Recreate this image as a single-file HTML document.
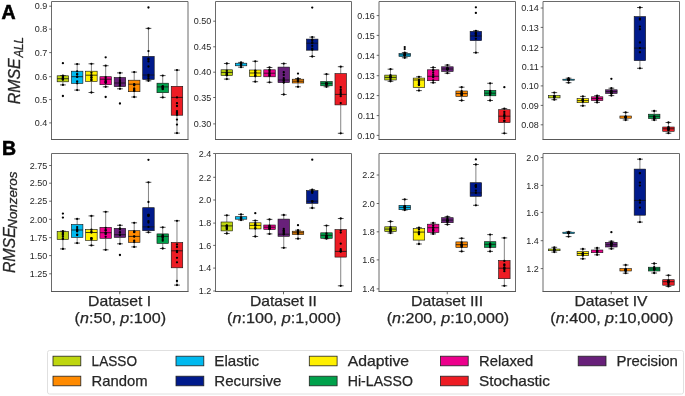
<!DOCTYPE html>
<html><head><meta charset="utf-8"><style>
html,body{margin:0;padding:0;background:#fff;}
svg{display:block;filter:blur(0.25px);}
text{font-family:"Liberation Sans",sans-serif;fill:#262626;}
.tl{font-size:9px;text-anchor:end;}
.xl{font-size:14.5px;stroke:#262626;stroke-width:0.25px;}
.yl{font-size:16.5px;font-style:italic;stroke:#262626;stroke-width:0.3px;}
.ys{font-size:12.4px;font-style:italic;stroke:#262626;stroke-width:0.3px;}
.pl{font-size:19.5px;font-weight:bold;fill:#000;stroke:#000;stroke-width:0.6px;}
.lg{font-size:14.5px;stroke:#262626;stroke-width:0.25px;}
.w{stroke:#777;stroke-width:0.9;}
.c{stroke:#222;stroke-width:0.8;}
.b{stroke:#111;stroke-width:0.6;}
.m{stroke:#111;stroke-width:0.8;}
.f{fill:none;stroke:#6a6a6a;stroke-width:1;}
.fb{stroke:#585858;stroke-width:1;}
.t{stroke:#444;stroke-width:0.8;}
circle{fill:#000;}
</style></head><body>
<svg width="685" height="396" viewBox="0 0 685 396">
<line x1="62.90" y1="75.60" x2="62.90" y2="75.80" class="w"/>
<line x1="62.90" y1="81.80" x2="62.90" y2="84.90" class="w"/>
<line x1="60.02" y1="75.60" x2="65.78" y2="75.60" class="c"/>
<line x1="60.02" y1="84.90" x2="65.78" y2="84.90" class="c"/>
<rect x="57.15" y="75.80" width="11.50" height="6.00" fill="#bed60f" class="b"/>
<line x1="57.15" y1="78.70" x2="68.65" y2="78.70" class="m"/>
<circle cx="62.90" cy="75.60" r="1.15"/>
<circle cx="62.90" cy="84.90" r="1.15"/>
<circle cx="62.90" cy="78.70" r="1.15"/>
<circle cx="62.90" cy="63.20" r="1.15"/>
<circle cx="62.90" cy="96.00" r="1.15"/>
<circle cx="62.90" cy="77.23" r="1.15"/>
<circle cx="62.90" cy="79.07" r="1.15"/>
<circle cx="62.90" cy="78.02" r="1.15"/>
<circle cx="62.90" cy="79.42" r="1.15"/>
<circle cx="62.90" cy="79.55" r="1.15"/>
<circle cx="62.90" cy="76.19" r="1.15"/>
<line x1="77.16" y1="64.10" x2="77.16" y2="71.20" class="w"/>
<line x1="77.16" y1="83.40" x2="77.16" y2="90.10" class="w"/>
<line x1="74.28" y1="64.10" x2="80.03" y2="64.10" class="c"/>
<line x1="74.28" y1="90.10" x2="80.03" y2="90.10" class="c"/>
<rect x="71.41" y="71.20" width="11.50" height="12.20" fill="#00b9ef" class="b"/>
<line x1="71.41" y1="76.70" x2="82.91" y2="76.70" class="m"/>
<circle cx="77.16" cy="64.10" r="1.15"/>
<circle cx="77.16" cy="90.10" r="1.15"/>
<circle cx="77.16" cy="76.70" r="1.15"/>
<circle cx="77.16" cy="71.36" r="1.15"/>
<circle cx="77.16" cy="81.42" r="1.15"/>
<circle cx="77.16" cy="74.36" r="1.15"/>
<circle cx="77.16" cy="74.06" r="1.15"/>
<circle cx="77.16" cy="83.35" r="1.15"/>
<circle cx="77.16" cy="76.94" r="1.15"/>
<line x1="91.42" y1="63.80" x2="91.42" y2="71.20" class="w"/>
<line x1="91.42" y1="81.50" x2="91.42" y2="92.50" class="w"/>
<line x1="88.55" y1="63.80" x2="94.30" y2="63.80" class="c"/>
<line x1="88.55" y1="92.50" x2="94.30" y2="92.50" class="c"/>
<rect x="85.67" y="71.20" width="11.50" height="10.30" fill="#fff000" class="b"/>
<line x1="85.67" y1="75.20" x2="97.17" y2="75.20" class="m"/>
<circle cx="91.42" cy="63.80" r="1.15"/>
<circle cx="91.42" cy="92.50" r="1.15"/>
<circle cx="91.42" cy="75.20" r="1.15"/>
<circle cx="91.42" cy="79.82" r="1.15"/>
<circle cx="91.42" cy="76.11" r="1.15"/>
<circle cx="91.42" cy="77.78" r="1.15"/>
<circle cx="91.42" cy="72.75" r="1.15"/>
<circle cx="91.42" cy="77.74" r="1.15"/>
<circle cx="91.42" cy="80.14" r="1.15"/>
<line x1="105.68" y1="65.70" x2="105.68" y2="76.70" class="w"/>
<line x1="105.68" y1="84.70" x2="105.68" y2="86.80" class="w"/>
<line x1="102.81" y1="65.70" x2="108.56" y2="65.70" class="c"/>
<line x1="102.81" y1="86.80" x2="108.56" y2="86.80" class="c"/>
<rect x="99.93" y="76.70" width="11.50" height="8.00" fill="#ec008c" class="b"/>
<line x1="99.93" y1="79.20" x2="111.43" y2="79.20" class="m"/>
<circle cx="105.68" cy="65.70" r="1.15"/>
<circle cx="105.68" cy="86.80" r="1.15"/>
<circle cx="105.68" cy="79.20" r="1.15"/>
<circle cx="105.68" cy="57.30" r="1.15"/>
<circle cx="105.68" cy="97.00" r="1.15"/>
<circle cx="105.68" cy="80.89" r="1.15"/>
<circle cx="105.68" cy="82.63" r="1.15"/>
<circle cx="105.68" cy="82.07" r="1.15"/>
<circle cx="105.68" cy="77.21" r="1.15"/>
<circle cx="105.68" cy="82.77" r="1.15"/>
<circle cx="105.68" cy="81.43" r="1.15"/>
<line x1="119.94" y1="72.90" x2="119.94" y2="77.50" class="w"/>
<line x1="119.94" y1="86.60" x2="119.94" y2="88.80" class="w"/>
<line x1="117.06" y1="72.90" x2="122.81" y2="72.90" class="c"/>
<line x1="117.06" y1="88.80" x2="122.81" y2="88.80" class="c"/>
<rect x="114.19" y="77.50" width="11.50" height="9.10" fill="#68207a" class="b"/>
<line x1="114.19" y1="83.00" x2="125.69" y2="83.00" class="m"/>
<circle cx="119.94" cy="72.90" r="1.15"/>
<circle cx="119.94" cy="88.80" r="1.15"/>
<circle cx="119.94" cy="83.00" r="1.15"/>
<circle cx="119.94" cy="103.50" r="1.15"/>
<circle cx="119.94" cy="80.24" r="1.15"/>
<circle cx="119.94" cy="77.78" r="1.15"/>
<circle cx="119.94" cy="85.38" r="1.15"/>
<circle cx="119.94" cy="81.80" r="1.15"/>
<circle cx="119.94" cy="84.04" r="1.15"/>
<circle cx="119.94" cy="85.50" r="1.15"/>
<line x1="134.20" y1="72.10" x2="134.20" y2="80.20" class="w"/>
<line x1="134.20" y1="91.70" x2="134.20" y2="97.00" class="w"/>
<line x1="131.32" y1="72.10" x2="137.07" y2="72.10" class="c"/>
<line x1="131.32" y1="97.00" x2="137.07" y2="97.00" class="c"/>
<rect x="128.45" y="80.20" width="11.50" height="11.50" fill="#ff8a00" class="b"/>
<line x1="128.45" y1="84.20" x2="139.95" y2="84.20" class="m"/>
<circle cx="134.20" cy="72.10" r="1.15"/>
<circle cx="134.20" cy="97.00" r="1.15"/>
<circle cx="134.20" cy="84.20" r="1.15"/>
<circle cx="134.20" cy="88.41" r="1.15"/>
<circle cx="134.20" cy="90.79" r="1.15"/>
<circle cx="134.20" cy="84.74" r="1.15"/>
<circle cx="134.20" cy="89.41" r="1.15"/>
<circle cx="134.20" cy="85.31" r="1.15"/>
<circle cx="134.20" cy="90.96" r="1.15"/>
<line x1="148.46" y1="28.40" x2="148.46" y2="56.40" class="w"/>
<line x1="148.46" y1="79.50" x2="148.46" y2="80.80" class="w"/>
<line x1="145.59" y1="28.40" x2="151.34" y2="28.40" class="c"/>
<line x1="145.59" y1="80.80" x2="151.34" y2="80.80" class="c"/>
<rect x="142.71" y="56.40" width="11.50" height="23.10" fill="#001a8c" class="b"/>
<line x1="142.71" y1="75.00" x2="154.21" y2="75.00" class="m"/>
<circle cx="148.46" cy="28.40" r="1.15"/>
<circle cx="148.46" cy="80.80" r="1.15"/>
<circle cx="148.46" cy="75.00" r="1.15"/>
<circle cx="148.46" cy="7.50" r="1.15"/>
<circle cx="148.46" cy="51.10" r="1.15"/>
<circle cx="148.46" cy="76.70" r="1.15"/>
<circle cx="148.46" cy="58.65" r="1.15"/>
<circle cx="148.46" cy="59.54" r="1.15"/>
<circle cx="148.46" cy="61.41" r="1.15"/>
<circle cx="148.46" cy="78.70" r="1.15"/>
<circle cx="148.46" cy="66.48" r="1.15"/>
<line x1="162.72" y1="75.60" x2="162.72" y2="83.20" class="w"/>
<line x1="162.72" y1="92.70" x2="162.72" y2="97.40" class="w"/>
<line x1="159.84" y1="75.60" x2="165.59" y2="75.60" class="c"/>
<line x1="159.84" y1="97.40" x2="165.59" y2="97.40" class="c"/>
<rect x="156.97" y="83.20" width="11.50" height="9.50" fill="#00a14b" class="b"/>
<line x1="156.97" y1="86.90" x2="168.47" y2="86.90" class="m"/>
<circle cx="162.72" cy="75.60" r="1.15"/>
<circle cx="162.72" cy="97.40" r="1.15"/>
<circle cx="162.72" cy="86.90" r="1.15"/>
<circle cx="162.72" cy="89.15" r="1.15"/>
<circle cx="162.72" cy="86.06" r="1.15"/>
<circle cx="162.72" cy="88.02" r="1.15"/>
<circle cx="162.72" cy="86.87" r="1.15"/>
<circle cx="162.72" cy="86.53" r="1.15"/>
<circle cx="162.72" cy="88.76" r="1.15"/>
<line x1="176.98" y1="70.10" x2="176.98" y2="86.30" class="w"/>
<line x1="176.98" y1="115.20" x2="176.98" y2="133.10" class="w"/>
<line x1="174.10" y1="70.10" x2="179.85" y2="70.10" class="c"/>
<line x1="174.10" y1="133.10" x2="179.85" y2="133.10" class="c"/>
<rect x="171.23" y="86.30" width="11.50" height="28.90" fill="#ed1c24" class="b"/>
<line x1="171.23" y1="97.40" x2="182.73" y2="97.40" class="m"/>
<circle cx="176.98" cy="70.10" r="1.15"/>
<circle cx="176.98" cy="133.10" r="1.15"/>
<circle cx="176.98" cy="97.40" r="1.15"/>
<circle cx="176.98" cy="119.60" r="1.15"/>
<circle cx="176.98" cy="124.60" r="1.15"/>
<circle cx="176.98" cy="103.18" r="1.15"/>
<circle cx="176.98" cy="112.43" r="1.15"/>
<circle cx="176.98" cy="106.01" r="1.15"/>
<circle cx="176.98" cy="113.15" r="1.15"/>
<circle cx="176.98" cy="111.05" r="1.15"/>
<circle cx="176.98" cy="114.94" r="1.15"/>
<path d="M51.5,139.5 V1.5 H188.0 V139.5" class="f"/>
<line x1="51.0" y1="139.5" x2="188.5" y2="139.5" class="fb"/>
<line x1="49.20" y1="6.20" x2="51.50" y2="6.20" class="t"/>
<text x="47.20" y="9.40" class="tl">0.9</text>
<line x1="49.20" y1="29.10" x2="51.50" y2="29.10" class="t"/>
<text x="47.20" y="32.30" class="tl">0.8</text>
<line x1="49.20" y1="52.60" x2="51.50" y2="52.60" class="t"/>
<text x="47.20" y="55.80" class="tl">0.7</text>
<line x1="49.20" y1="76.70" x2="51.50" y2="76.70" class="t"/>
<text x="47.20" y="79.90" class="tl">0.6</text>
<line x1="49.20" y1="99.60" x2="51.50" y2="99.60" class="t"/>
<text x="47.20" y="102.80" class="tl">0.5</text>
<line x1="49.20" y1="122.90" x2="51.50" y2="122.90" class="t"/>
<text x="47.20" y="126.10" class="tl">0.4</text>
<line x1="226.80" y1="63.50" x2="226.80" y2="69.80" class="w"/>
<line x1="226.80" y1="75.50" x2="226.80" y2="79.10" class="w"/>
<line x1="223.93" y1="63.50" x2="229.68" y2="63.50" class="c"/>
<line x1="223.93" y1="79.10" x2="229.68" y2="79.10" class="c"/>
<rect x="221.05" y="69.80" width="11.50" height="5.70" fill="#bed60f" class="b"/>
<line x1="221.05" y1="72.40" x2="232.55" y2="72.40" class="m"/>
<circle cx="226.80" cy="63.50" r="1.15"/>
<circle cx="226.80" cy="79.10" r="1.15"/>
<circle cx="226.80" cy="72.40" r="1.15"/>
<circle cx="226.80" cy="73.63" r="1.15"/>
<circle cx="226.80" cy="70.73" r="1.15"/>
<circle cx="226.80" cy="74.71" r="1.15"/>
<circle cx="226.80" cy="75.30" r="1.15"/>
<circle cx="226.80" cy="74.96" r="1.15"/>
<circle cx="226.80" cy="73.04" r="1.15"/>
<line x1="241.04" y1="62.40" x2="241.04" y2="63.20" class="w"/>
<line x1="241.04" y1="65.80" x2="241.04" y2="67.20" class="w"/>
<line x1="238.17" y1="62.40" x2="243.92" y2="62.40" class="c"/>
<line x1="238.17" y1="67.20" x2="243.92" y2="67.20" class="c"/>
<rect x="235.29" y="63.20" width="11.50" height="2.60" fill="#00b9ef" class="b"/>
<circle cx="241.04" cy="62.40" r="1.15"/>
<circle cx="241.04" cy="67.20" r="1.15"/>
<circle cx="241.04" cy="64.70" r="1.15"/>
<circle cx="241.04" cy="65.06" r="1.15"/>
<circle cx="241.04" cy="63.75" r="1.15"/>
<circle cx="241.04" cy="65.36" r="1.15"/>
<circle cx="241.04" cy="64.69" r="1.15"/>
<circle cx="241.04" cy="63.94" r="1.15"/>
<circle cx="241.04" cy="63.36" r="1.15"/>
<line x1="255.28" y1="61.30" x2="255.28" y2="70.00" class="w"/>
<line x1="255.28" y1="76.40" x2="255.28" y2="81.70" class="w"/>
<line x1="252.41" y1="61.30" x2="258.15" y2="61.30" class="c"/>
<line x1="252.41" y1="81.70" x2="258.15" y2="81.70" class="c"/>
<rect x="249.53" y="70.00" width="11.50" height="6.40" fill="#fff000" class="b"/>
<line x1="249.53" y1="73.00" x2="261.03" y2="73.00" class="m"/>
<circle cx="255.28" cy="61.30" r="1.15"/>
<circle cx="255.28" cy="81.70" r="1.15"/>
<circle cx="255.28" cy="73.00" r="1.15"/>
<circle cx="255.28" cy="75.47" r="1.15"/>
<circle cx="255.28" cy="76.33" r="1.15"/>
<circle cx="255.28" cy="70.57" r="1.15"/>
<circle cx="255.28" cy="75.12" r="1.15"/>
<circle cx="255.28" cy="72.63" r="1.15"/>
<circle cx="255.28" cy="70.96" r="1.15"/>
<line x1="269.52" y1="67.50" x2="269.52" y2="69.80" class="w"/>
<line x1="269.52" y1="76.80" x2="269.52" y2="82.30" class="w"/>
<line x1="266.64" y1="67.50" x2="272.39" y2="67.50" class="c"/>
<line x1="266.64" y1="82.30" x2="272.39" y2="82.30" class="c"/>
<rect x="263.77" y="69.80" width="11.50" height="7.00" fill="#ec008c" class="b"/>
<line x1="263.77" y1="73.20" x2="275.27" y2="73.20" class="m"/>
<circle cx="269.52" cy="67.50" r="1.15"/>
<circle cx="269.52" cy="82.30" r="1.15"/>
<circle cx="269.52" cy="73.20" r="1.15"/>
<circle cx="269.52" cy="71.86" r="1.15"/>
<circle cx="269.52" cy="75.18" r="1.15"/>
<circle cx="269.52" cy="75.91" r="1.15"/>
<circle cx="269.52" cy="70.11" r="1.15"/>
<circle cx="269.52" cy="74.10" r="1.15"/>
<circle cx="269.52" cy="70.11" r="1.15"/>
<line x1="283.76" y1="63.60" x2="283.76" y2="67.10" class="w"/>
<line x1="283.76" y1="82.60" x2="283.76" y2="94.50" class="w"/>
<line x1="280.88" y1="63.60" x2="286.63" y2="63.60" class="c"/>
<line x1="280.88" y1="94.50" x2="286.63" y2="94.50" class="c"/>
<rect x="278.01" y="67.10" width="11.50" height="15.50" fill="#68207a" class="b"/>
<line x1="278.01" y1="80.00" x2="289.51" y2="80.00" class="m"/>
<circle cx="283.76" cy="63.60" r="1.15"/>
<circle cx="283.76" cy="94.50" r="1.15"/>
<circle cx="283.76" cy="80.00" r="1.15"/>
<circle cx="283.76" cy="78.24" r="1.15"/>
<circle cx="283.76" cy="72.23" r="1.15"/>
<circle cx="283.76" cy="80.75" r="1.15"/>
<circle cx="283.76" cy="82.30" r="1.15"/>
<circle cx="283.76" cy="74.93" r="1.15"/>
<circle cx="283.76" cy="82.58" r="1.15"/>
<line x1="298.00" y1="78.50" x2="298.00" y2="79.20" class="w"/>
<line x1="298.00" y1="83.00" x2="298.00" y2="86.80" class="w"/>
<line x1="295.12" y1="78.50" x2="300.88" y2="78.50" class="c"/>
<line x1="295.12" y1="86.80" x2="300.88" y2="86.80" class="c"/>
<rect x="292.25" y="79.20" width="11.50" height="3.80" fill="#ff8a00" class="b"/>
<line x1="292.25" y1="81.20" x2="303.75" y2="81.20" class="m"/>
<circle cx="298.00" cy="78.50" r="1.15"/>
<circle cx="298.00" cy="86.80" r="1.15"/>
<circle cx="298.00" cy="81.20" r="1.15"/>
<circle cx="298.00" cy="73.60" r="1.15"/>
<circle cx="298.00" cy="80.38" r="1.15"/>
<circle cx="298.00" cy="79.49" r="1.15"/>
<circle cx="298.00" cy="81.48" r="1.15"/>
<circle cx="298.00" cy="79.32" r="1.15"/>
<circle cx="298.00" cy="79.95" r="1.15"/>
<circle cx="298.00" cy="80.75" r="1.15"/>
<line x1="312.24" y1="37.10" x2="312.24" y2="39.10" class="w"/>
<line x1="312.24" y1="50.20" x2="312.24" y2="56.50" class="w"/>
<line x1="309.37" y1="37.10" x2="315.12" y2="37.10" class="c"/>
<line x1="309.37" y1="56.50" x2="315.12" y2="56.50" class="c"/>
<rect x="306.49" y="39.10" width="11.50" height="11.10" fill="#001a8c" class="b"/>
<line x1="306.49" y1="43.20" x2="317.99" y2="43.20" class="m"/>
<circle cx="312.24" cy="37.10" r="1.15"/>
<circle cx="312.24" cy="56.50" r="1.15"/>
<circle cx="312.24" cy="43.20" r="1.15"/>
<circle cx="312.24" cy="7.60" r="1.15"/>
<circle cx="312.24" cy="45.88" r="1.15"/>
<circle cx="312.24" cy="40.83" r="1.15"/>
<circle cx="312.24" cy="39.57" r="1.15"/>
<circle cx="312.24" cy="48.73" r="1.15"/>
<circle cx="312.24" cy="42.58" r="1.15"/>
<circle cx="312.24" cy="49.74" r="1.15"/>
<line x1="326.48" y1="74.20" x2="326.48" y2="81.50" class="w"/>
<line x1="326.48" y1="85.80" x2="326.48" y2="86.80" class="w"/>
<line x1="323.61" y1="74.20" x2="329.36" y2="74.20" class="c"/>
<line x1="323.61" y1="86.80" x2="329.36" y2="86.80" class="c"/>
<rect x="320.73" y="81.50" width="11.50" height="4.30" fill="#00a14b" class="b"/>
<line x1="320.73" y1="83.30" x2="332.23" y2="83.30" class="m"/>
<circle cx="326.48" cy="74.20" r="1.15"/>
<circle cx="326.48" cy="86.80" r="1.15"/>
<circle cx="326.48" cy="83.30" r="1.15"/>
<circle cx="326.48" cy="85.36" r="1.15"/>
<circle cx="326.48" cy="83.12" r="1.15"/>
<circle cx="326.48" cy="83.48" r="1.15"/>
<circle cx="326.48" cy="83.74" r="1.15"/>
<circle cx="326.48" cy="84.27" r="1.15"/>
<circle cx="326.48" cy="84.06" r="1.15"/>
<line x1="340.72" y1="66.70" x2="340.72" y2="73.60" class="w"/>
<line x1="340.72" y1="104.90" x2="340.72" y2="133.30" class="w"/>
<line x1="337.85" y1="66.70" x2="343.60" y2="66.70" class="c"/>
<line x1="337.85" y1="133.30" x2="343.60" y2="133.30" class="c"/>
<rect x="334.97" y="73.60" width="11.50" height="31.30" fill="#ed1c24" class="b"/>
<line x1="334.97" y1="94.40" x2="346.47" y2="94.40" class="m"/>
<circle cx="340.72" cy="66.70" r="1.15"/>
<circle cx="340.72" cy="133.30" r="1.15"/>
<circle cx="340.72" cy="94.40" r="1.15"/>
<circle cx="340.72" cy="91.10" r="1.15"/>
<circle cx="340.72" cy="93.01" r="1.15"/>
<circle cx="340.72" cy="103.04" r="1.15"/>
<circle cx="340.72" cy="89.47" r="1.15"/>
<circle cx="340.72" cy="87.10" r="1.15"/>
<circle cx="340.72" cy="96.15" r="1.15"/>
<path d="M215.5,139.5 V1.5 H351.5 V139.5" class="f"/>
<line x1="215.0" y1="139.5" x2="352.0" y2="139.5" class="fb"/>
<line x1="213.20" y1="21.20" x2="215.50" y2="21.20" class="t"/>
<text x="211.20" y="24.40" class="tl">0.50</text>
<line x1="213.20" y1="46.80" x2="215.50" y2="46.80" class="t"/>
<text x="211.20" y="50.00" class="tl">0.45</text>
<line x1="213.20" y1="72.20" x2="215.50" y2="72.20" class="t"/>
<text x="211.20" y="75.40" class="tl">0.40</text>
<line x1="213.20" y1="97.50" x2="215.50" y2="97.50" class="t"/>
<text x="211.20" y="100.70" class="tl">0.35</text>
<line x1="213.20" y1="123.90" x2="215.50" y2="123.90" class="t"/>
<text x="211.20" y="127.10" class="tl">0.30</text>
<line x1="390.50" y1="69.20" x2="390.50" y2="75.10" class="w"/>
<line x1="390.50" y1="80.00" x2="390.50" y2="81.30" class="w"/>
<line x1="387.62" y1="69.20" x2="393.38" y2="69.20" class="c"/>
<line x1="387.62" y1="81.30" x2="393.38" y2="81.30" class="c"/>
<rect x="384.75" y="75.10" width="11.50" height="4.90" fill="#bed60f" class="b"/>
<line x1="384.75" y1="77.40" x2="396.25" y2="77.40" class="m"/>
<circle cx="390.50" cy="69.20" r="1.15"/>
<circle cx="390.50" cy="81.30" r="1.15"/>
<circle cx="390.50" cy="77.40" r="1.15"/>
<circle cx="390.50" cy="76.26" r="1.15"/>
<circle cx="390.50" cy="76.58" r="1.15"/>
<circle cx="390.50" cy="79.89" r="1.15"/>
<circle cx="390.50" cy="77.65" r="1.15"/>
<circle cx="390.50" cy="77.79" r="1.15"/>
<circle cx="390.50" cy="75.16" r="1.15"/>
<line x1="404.73" y1="52.60" x2="404.73" y2="53.50" class="w"/>
<line x1="404.73" y1="56.50" x2="404.73" y2="57.80" class="w"/>
<line x1="401.86" y1="52.60" x2="407.61" y2="52.60" class="c"/>
<line x1="401.86" y1="57.80" x2="407.61" y2="57.80" class="c"/>
<rect x="398.98" y="53.50" width="11.50" height="3.00" fill="#00b9ef" class="b"/>
<line x1="398.98" y1="54.90" x2="410.48" y2="54.90" class="m"/>
<circle cx="404.73" cy="52.60" r="1.15"/>
<circle cx="404.73" cy="57.80" r="1.15"/>
<circle cx="404.73" cy="54.90" r="1.15"/>
<circle cx="404.73" cy="47.10" r="1.15"/>
<circle cx="404.73" cy="49.10" r="1.15"/>
<circle cx="404.73" cy="54.75" r="1.15"/>
<circle cx="404.73" cy="55.24" r="1.15"/>
<circle cx="404.73" cy="53.56" r="1.15"/>
<circle cx="404.73" cy="55.35" r="1.15"/>
<circle cx="404.73" cy="55.40" r="1.15"/>
<circle cx="404.73" cy="53.68" r="1.15"/>
<line x1="418.96" y1="76.80" x2="418.96" y2="78.10" class="w"/>
<line x1="418.96" y1="87.50" x2="418.96" y2="90.60" class="w"/>
<line x1="416.08" y1="76.80" x2="421.83" y2="76.80" class="c"/>
<line x1="416.08" y1="90.60" x2="421.83" y2="90.60" class="c"/>
<rect x="413.21" y="78.10" width="11.50" height="9.40" fill="#fff000" class="b"/>
<line x1="413.21" y1="80.00" x2="424.71" y2="80.00" class="m"/>
<circle cx="418.96" cy="76.80" r="1.15"/>
<circle cx="418.96" cy="90.60" r="1.15"/>
<circle cx="418.96" cy="80.00" r="1.15"/>
<circle cx="418.96" cy="84.00" r="1.15"/>
<circle cx="418.96" cy="82.48" r="1.15"/>
<circle cx="418.96" cy="84.49" r="1.15"/>
<circle cx="418.96" cy="81.41" r="1.15"/>
<circle cx="418.96" cy="84.75" r="1.15"/>
<circle cx="418.96" cy="85.04" r="1.15"/>
<line x1="433.19" y1="67.50" x2="433.19" y2="69.80" class="w"/>
<line x1="433.19" y1="80.70" x2="433.19" y2="82.70" class="w"/>
<line x1="430.31" y1="67.50" x2="436.06" y2="67.50" class="c"/>
<line x1="430.31" y1="82.70" x2="436.06" y2="82.70" class="c"/>
<rect x="427.44" y="69.80" width="11.50" height="10.90" fill="#ec008c" class="b"/>
<line x1="427.44" y1="76.30" x2="438.94" y2="76.30" class="m"/>
<circle cx="433.19" cy="67.50" r="1.15"/>
<circle cx="433.19" cy="82.70" r="1.15"/>
<circle cx="433.19" cy="76.30" r="1.15"/>
<circle cx="433.19" cy="70.04" r="1.15"/>
<circle cx="433.19" cy="70.46" r="1.15"/>
<circle cx="433.19" cy="77.17" r="1.15"/>
<circle cx="433.19" cy="80.30" r="1.15"/>
<circle cx="433.19" cy="72.54" r="1.15"/>
<circle cx="433.19" cy="74.77" r="1.15"/>
<line x1="447.42" y1="65.10" x2="447.42" y2="66.80" class="w"/>
<line x1="447.42" y1="71.50" x2="447.42" y2="73.20" class="w"/>
<line x1="444.55" y1="65.10" x2="450.30" y2="65.10" class="c"/>
<line x1="444.55" y1="73.20" x2="450.30" y2="73.20" class="c"/>
<rect x="441.67" y="66.80" width="11.50" height="4.70" fill="#68207a" class="b"/>
<line x1="441.67" y1="69.00" x2="453.17" y2="69.00" class="m"/>
<circle cx="447.42" cy="65.10" r="1.15"/>
<circle cx="447.42" cy="73.20" r="1.15"/>
<circle cx="447.42" cy="69.00" r="1.15"/>
<circle cx="447.42" cy="69.59" r="1.15"/>
<circle cx="447.42" cy="68.30" r="1.15"/>
<circle cx="447.42" cy="68.51" r="1.15"/>
<circle cx="447.42" cy="68.27" r="1.15"/>
<circle cx="447.42" cy="68.54" r="1.15"/>
<circle cx="447.42" cy="69.60" r="1.15"/>
<line x1="461.65" y1="87.20" x2="461.65" y2="91.00" class="w"/>
<line x1="461.65" y1="96.40" x2="461.65" y2="100.50" class="w"/>
<line x1="458.77" y1="87.20" x2="464.52" y2="87.20" class="c"/>
<line x1="458.77" y1="100.50" x2="464.52" y2="100.50" class="c"/>
<rect x="455.90" y="91.00" width="11.50" height="5.40" fill="#ff8a00" class="b"/>
<line x1="455.90" y1="93.60" x2="467.40" y2="93.60" class="m"/>
<circle cx="461.65" cy="87.20" r="1.15"/>
<circle cx="461.65" cy="100.50" r="1.15"/>
<circle cx="461.65" cy="93.60" r="1.15"/>
<circle cx="461.65" cy="92.62" r="1.15"/>
<circle cx="461.65" cy="93.04" r="1.15"/>
<circle cx="461.65" cy="95.17" r="1.15"/>
<circle cx="461.65" cy="91.15" r="1.15"/>
<circle cx="461.65" cy="94.07" r="1.15"/>
<circle cx="461.65" cy="94.97" r="1.15"/>
<line x1="475.88" y1="30.80" x2="475.88" y2="31.40" class="w"/>
<line x1="475.88" y1="40.60" x2="475.88" y2="52.70" class="w"/>
<line x1="473.00" y1="30.80" x2="478.75" y2="30.80" class="c"/>
<line x1="473.00" y1="52.70" x2="478.75" y2="52.70" class="c"/>
<rect x="470.13" y="31.40" width="11.50" height="9.20" fill="#001a8c" class="b"/>
<line x1="470.13" y1="36.00" x2="481.63" y2="36.00" class="m"/>
<circle cx="475.88" cy="30.80" r="1.15"/>
<circle cx="475.88" cy="52.70" r="1.15"/>
<circle cx="475.88" cy="36.00" r="1.15"/>
<circle cx="475.88" cy="7.30" r="1.15"/>
<circle cx="475.88" cy="12.90" r="1.15"/>
<circle cx="475.88" cy="34.25" r="1.15"/>
<circle cx="475.88" cy="33.45" r="1.15"/>
<circle cx="475.88" cy="38.80" r="1.15"/>
<circle cx="475.88" cy="33.60" r="1.15"/>
<circle cx="475.88" cy="33.12" r="1.15"/>
<circle cx="475.88" cy="35.40" r="1.15"/>
<line x1="490.11" y1="83.30" x2="490.11" y2="90.40" class="w"/>
<line x1="490.11" y1="95.80" x2="490.11" y2="100.50" class="w"/>
<line x1="487.24" y1="83.30" x2="492.99" y2="83.30" class="c"/>
<line x1="487.24" y1="100.50" x2="492.99" y2="100.50" class="c"/>
<rect x="484.36" y="90.40" width="11.50" height="5.40" fill="#00a14b" class="b"/>
<line x1="484.36" y1="93.20" x2="495.86" y2="93.20" class="m"/>
<circle cx="490.11" cy="83.30" r="1.15"/>
<circle cx="490.11" cy="100.50" r="1.15"/>
<circle cx="490.11" cy="93.20" r="1.15"/>
<circle cx="490.11" cy="94.17" r="1.15"/>
<circle cx="490.11" cy="90.95" r="1.15"/>
<circle cx="490.11" cy="92.14" r="1.15"/>
<circle cx="490.11" cy="92.20" r="1.15"/>
<circle cx="490.11" cy="94.90" r="1.15"/>
<circle cx="490.11" cy="92.77" r="1.15"/>
<line x1="504.34" y1="108.60" x2="504.34" y2="109.70" class="w"/>
<line x1="504.34" y1="122.60" x2="504.34" y2="133.30" class="w"/>
<line x1="501.47" y1="108.60" x2="507.22" y2="108.60" class="c"/>
<line x1="501.47" y1="133.30" x2="507.22" y2="133.30" class="c"/>
<rect x="498.59" y="109.70" width="11.50" height="12.90" fill="#ed1c24" class="b"/>
<line x1="498.59" y1="116.20" x2="510.09" y2="116.20" class="m"/>
<circle cx="504.34" cy="108.60" r="1.15"/>
<circle cx="504.34" cy="133.30" r="1.15"/>
<circle cx="504.34" cy="116.20" r="1.15"/>
<circle cx="504.34" cy="87.20" r="1.15"/>
<circle cx="504.34" cy="120.74" r="1.15"/>
<circle cx="504.34" cy="111.88" r="1.15"/>
<circle cx="504.34" cy="114.04" r="1.15"/>
<circle cx="504.34" cy="118.09" r="1.15"/>
<circle cx="504.34" cy="121.12" r="1.15"/>
<circle cx="504.34" cy="115.52" r="1.15"/>
<path d="M379.0,139.5 V1.5 H515.5 V139.5" class="f"/>
<line x1="378.5" y1="139.5" x2="516.0" y2="139.5" class="fb"/>
<line x1="376.70" y1="15.60" x2="379.00" y2="15.60" class="t"/>
<text x="374.70" y="18.80" class="tl">0.16</text>
<line x1="376.70" y1="35.40" x2="379.00" y2="35.40" class="t"/>
<text x="374.70" y="38.60" class="tl">0.15</text>
<line x1="376.70" y1="55.30" x2="379.00" y2="55.30" class="t"/>
<text x="374.70" y="58.50" class="tl">0.14</text>
<line x1="376.70" y1="75.70" x2="379.00" y2="75.70" class="t"/>
<text x="374.70" y="78.90" class="tl">0.13</text>
<line x1="376.70" y1="95.60" x2="379.00" y2="95.60" class="t"/>
<text x="374.70" y="98.80" class="tl">0.12</text>
<line x1="376.70" y1="115.60" x2="379.00" y2="115.60" class="t"/>
<text x="374.70" y="118.80" class="tl">0.11</text>
<line x1="376.70" y1="135.40" x2="379.00" y2="135.40" class="t"/>
<text x="374.70" y="138.60" class="tl">0.10</text>
<line x1="554.30" y1="92.60" x2="554.30" y2="95.60" class="w"/>
<line x1="554.30" y1="97.90" x2="554.30" y2="99.70" class="w"/>
<line x1="551.42" y1="92.60" x2="557.17" y2="92.60" class="c"/>
<line x1="551.42" y1="99.70" x2="557.17" y2="99.70" class="c"/>
<rect x="548.55" y="95.60" width="11.50" height="2.30" fill="#bed60f" class="b"/>
<circle cx="554.30" cy="92.60" r="1.15"/>
<circle cx="554.30" cy="99.70" r="1.15"/>
<circle cx="554.30" cy="96.80" r="1.15"/>
<circle cx="554.30" cy="96.12" r="1.15"/>
<circle cx="554.30" cy="95.88" r="1.15"/>
<circle cx="554.30" cy="96.82" r="1.15"/>
<circle cx="554.30" cy="96.04" r="1.15"/>
<circle cx="554.30" cy="97.46" r="1.15"/>
<circle cx="554.30" cy="97.53" r="1.15"/>
<line x1="568.57" y1="78.20" x2="568.57" y2="79.20" class="w"/>
<line x1="568.57" y1="80.20" x2="568.57" y2="82.70" class="w"/>
<line x1="565.69" y1="78.20" x2="571.44" y2="78.20" class="c"/>
<line x1="565.69" y1="82.70" x2="571.44" y2="82.70" class="c"/>
<rect x="562.82" y="79.20" width="11.50" height="1.00" fill="#00b9ef" class="b"/>
<circle cx="568.57" cy="78.20" r="1.15"/>
<circle cx="568.57" cy="82.70" r="1.15"/>
<circle cx="568.57" cy="79.70" r="1.15"/>
<circle cx="568.57" cy="79.38" r="1.15"/>
<circle cx="568.57" cy="79.48" r="1.15"/>
<circle cx="568.57" cy="80.01" r="1.15"/>
<circle cx="568.57" cy="79.84" r="1.15"/>
<circle cx="568.57" cy="80.01" r="1.15"/>
<circle cx="568.57" cy="79.55" r="1.15"/>
<line x1="582.84" y1="96.40" x2="582.84" y2="98.60" class="w"/>
<line x1="582.84" y1="102.70" x2="582.84" y2="105.80" class="w"/>
<line x1="579.96" y1="96.40" x2="585.71" y2="96.40" class="c"/>
<line x1="579.96" y1="105.80" x2="585.71" y2="105.80" class="c"/>
<rect x="577.09" y="98.60" width="11.50" height="4.10" fill="#fff000" class="b"/>
<line x1="577.09" y1="100.60" x2="588.59" y2="100.60" class="m"/>
<circle cx="582.84" cy="96.40" r="1.15"/>
<circle cx="582.84" cy="105.80" r="1.15"/>
<circle cx="582.84" cy="100.60" r="1.15"/>
<circle cx="582.84" cy="99.13" r="1.15"/>
<circle cx="582.84" cy="99.80" r="1.15"/>
<circle cx="582.84" cy="101.85" r="1.15"/>
<circle cx="582.84" cy="99.71" r="1.15"/>
<circle cx="582.84" cy="100.02" r="1.15"/>
<circle cx="582.84" cy="100.31" r="1.15"/>
<line x1="597.11" y1="95.60" x2="597.11" y2="96.80" class="w"/>
<line x1="597.11" y1="100.60" x2="597.11" y2="102.40" class="w"/>
<line x1="594.23" y1="95.60" x2="599.98" y2="95.60" class="c"/>
<line x1="594.23" y1="102.40" x2="599.98" y2="102.40" class="c"/>
<rect x="591.36" y="96.80" width="11.50" height="3.80" fill="#ec008c" class="b"/>
<line x1="591.36" y1="98.60" x2="602.86" y2="98.60" class="m"/>
<circle cx="597.11" cy="95.60" r="1.15"/>
<circle cx="597.11" cy="102.40" r="1.15"/>
<circle cx="597.11" cy="98.60" r="1.15"/>
<circle cx="597.11" cy="98.40" r="1.15"/>
<circle cx="597.11" cy="98.36" r="1.15"/>
<circle cx="597.11" cy="100.30" r="1.15"/>
<circle cx="597.11" cy="97.39" r="1.15"/>
<circle cx="597.11" cy="96.82" r="1.15"/>
<circle cx="597.11" cy="100.38" r="1.15"/>
<line x1="611.38" y1="88.20" x2="611.38" y2="89.80" class="w"/>
<line x1="611.38" y1="93.50" x2="611.38" y2="95.60" class="w"/>
<line x1="608.50" y1="88.20" x2="614.25" y2="88.20" class="c"/>
<line x1="608.50" y1="95.60" x2="614.25" y2="95.60" class="c"/>
<rect x="605.63" y="89.80" width="11.50" height="3.70" fill="#68207a" class="b"/>
<line x1="605.63" y1="91.60" x2="617.13" y2="91.60" class="m"/>
<circle cx="611.38" cy="88.20" r="1.15"/>
<circle cx="611.38" cy="95.60" r="1.15"/>
<circle cx="611.38" cy="91.60" r="1.15"/>
<circle cx="611.38" cy="78.80" r="1.15"/>
<circle cx="611.38" cy="93.06" r="1.15"/>
<circle cx="611.38" cy="93.45" r="1.15"/>
<circle cx="611.38" cy="91.41" r="1.15"/>
<circle cx="611.38" cy="93.32" r="1.15"/>
<circle cx="611.38" cy="93.23" r="1.15"/>
<circle cx="611.38" cy="90.62" r="1.15"/>
<line x1="625.65" y1="112.40" x2="625.65" y2="116.00" class="w"/>
<line x1="625.65" y1="118.20" x2="625.65" y2="120.00" class="w"/>
<line x1="622.77" y1="112.40" x2="628.52" y2="112.40" class="c"/>
<line x1="622.77" y1="120.00" x2="628.52" y2="120.00" class="c"/>
<rect x="619.90" y="116.00" width="11.50" height="2.20" fill="#ff8a00" class="b"/>
<circle cx="625.65" cy="112.40" r="1.15"/>
<circle cx="625.65" cy="120.00" r="1.15"/>
<circle cx="625.65" cy="117.00" r="1.15"/>
<circle cx="625.65" cy="117.64" r="1.15"/>
<circle cx="625.65" cy="117.84" r="1.15"/>
<circle cx="625.65" cy="117.46" r="1.15"/>
<circle cx="625.65" cy="117.14" r="1.15"/>
<circle cx="625.65" cy="116.64" r="1.15"/>
<circle cx="625.65" cy="116.75" r="1.15"/>
<line x1="639.92" y1="7.50" x2="639.92" y2="16.60" class="w"/>
<line x1="639.92" y1="60.60" x2="639.92" y2="68.30" class="w"/>
<line x1="637.04" y1="7.50" x2="642.79" y2="7.50" class="c"/>
<line x1="637.04" y1="68.30" x2="642.79" y2="68.30" class="c"/>
<rect x="634.17" y="16.60" width="11.50" height="44.00" fill="#001a8c" class="b"/>
<line x1="634.17" y1="48.10" x2="645.67" y2="48.10" class="m"/>
<circle cx="639.92" cy="7.50" r="1.15"/>
<circle cx="639.92" cy="68.30" r="1.15"/>
<circle cx="639.92" cy="48.10" r="1.15"/>
<circle cx="639.92" cy="26.61" r="1.15"/>
<circle cx="639.92" cy="19.59" r="1.15"/>
<circle cx="639.92" cy="42.50" r="1.15"/>
<circle cx="639.92" cy="29.23" r="1.15"/>
<circle cx="639.92" cy="52.25" r="1.15"/>
<circle cx="639.92" cy="18.58" r="1.15"/>
<line x1="654.19" y1="111.00" x2="654.19" y2="114.20" class="w"/>
<line x1="654.19" y1="118.60" x2="654.19" y2="120.00" class="w"/>
<line x1="651.31" y1="111.00" x2="657.06" y2="111.00" class="c"/>
<line x1="651.31" y1="120.00" x2="657.06" y2="120.00" class="c"/>
<rect x="648.44" y="114.20" width="11.50" height="4.40" fill="#00a14b" class="b"/>
<line x1="648.44" y1="116.30" x2="659.94" y2="116.30" class="m"/>
<circle cx="654.19" cy="111.00" r="1.15"/>
<circle cx="654.19" cy="120.00" r="1.15"/>
<circle cx="654.19" cy="116.30" r="1.15"/>
<circle cx="654.19" cy="118.18" r="1.15"/>
<circle cx="654.19" cy="117.25" r="1.15"/>
<circle cx="654.19" cy="118.26" r="1.15"/>
<circle cx="654.19" cy="118.14" r="1.15"/>
<circle cx="654.19" cy="118.16" r="1.15"/>
<circle cx="654.19" cy="116.74" r="1.15"/>
<line x1="668.46" y1="122.50" x2="668.46" y2="127.00" class="w"/>
<line x1="668.46" y1="131.30" x2="668.46" y2="133.20" class="w"/>
<line x1="665.58" y1="122.50" x2="671.33" y2="122.50" class="c"/>
<line x1="665.58" y1="133.20" x2="671.33" y2="133.20" class="c"/>
<rect x="662.71" y="127.00" width="11.50" height="4.30" fill="#ed1c24" class="b"/>
<line x1="662.71" y1="128.80" x2="674.21" y2="128.80" class="m"/>
<circle cx="668.46" cy="122.50" r="1.15"/>
<circle cx="668.46" cy="133.20" r="1.15"/>
<circle cx="668.46" cy="128.80" r="1.15"/>
<circle cx="668.46" cy="127.06" r="1.15"/>
<circle cx="668.46" cy="130.20" r="1.15"/>
<circle cx="668.46" cy="127.74" r="1.15"/>
<circle cx="668.46" cy="128.29" r="1.15"/>
<circle cx="668.46" cy="129.85" r="1.15"/>
<circle cx="668.46" cy="129.26" r="1.15"/>
<path d="M543.0,139.5 V1.5 H679.5 V139.5" class="f"/>
<line x1="542.5" y1="139.5" x2="680.0" y2="139.5" class="fb"/>
<line x1="540.70" y1="8.00" x2="543.00" y2="8.00" class="t"/>
<text x="538.70" y="11.20" class="tl">0.14</text>
<line x1="540.70" y1="27.40" x2="543.00" y2="27.40" class="t"/>
<text x="538.70" y="30.60" class="tl">0.13</text>
<line x1="540.70" y1="47.40" x2="543.00" y2="47.40" class="t"/>
<text x="538.70" y="50.60" class="tl">0.12</text>
<line x1="540.70" y1="66.80" x2="543.00" y2="66.80" class="t"/>
<text x="538.70" y="70.00" class="tl">0.11</text>
<line x1="540.70" y1="85.90" x2="543.00" y2="85.90" class="t"/>
<text x="538.70" y="89.10" class="tl">0.10</text>
<line x1="540.70" y1="105.40" x2="543.00" y2="105.40" class="t"/>
<text x="538.70" y="108.60" class="tl">0.09</text>
<line x1="540.70" y1="124.80" x2="543.00" y2="124.80" class="t"/>
<text x="538.70" y="128.00" class="tl">0.08</text>
<line x1="62.90" y1="231.20" x2="62.90" y2="231.60" class="w"/>
<line x1="62.90" y1="239.50" x2="62.90" y2="248.90" class="w"/>
<line x1="60.02" y1="231.20" x2="65.78" y2="231.20" class="c"/>
<line x1="60.02" y1="248.90" x2="65.78" y2="248.90" class="c"/>
<rect x="57.15" y="231.60" width="11.50" height="7.90" fill="#bed60f" class="b"/>
<circle cx="62.90" cy="231.20" r="1.15"/>
<circle cx="62.90" cy="248.90" r="1.15"/>
<circle cx="62.90" cy="232.50" r="1.15"/>
<circle cx="62.90" cy="213.60" r="1.15"/>
<circle cx="62.90" cy="217.60" r="1.15"/>
<circle cx="62.90" cy="234.87" r="1.15"/>
<circle cx="62.90" cy="239.02" r="1.15"/>
<circle cx="62.90" cy="236.44" r="1.15"/>
<circle cx="62.90" cy="234.30" r="1.15"/>
<circle cx="62.90" cy="233.59" r="1.15"/>
<circle cx="62.90" cy="238.41" r="1.15"/>
<line x1="77.16" y1="218.90" x2="77.16" y2="224.50" class="w"/>
<line x1="77.16" y1="237.40" x2="77.16" y2="243.10" class="w"/>
<line x1="74.28" y1="218.90" x2="80.03" y2="218.90" class="c"/>
<line x1="74.28" y1="243.10" x2="80.03" y2="243.10" class="c"/>
<rect x="71.41" y="224.50" width="11.50" height="12.90" fill="#00b9ef" class="b"/>
<line x1="71.41" y1="230.00" x2="82.91" y2="230.00" class="m"/>
<circle cx="77.16" cy="218.90" r="1.15"/>
<circle cx="77.16" cy="243.10" r="1.15"/>
<circle cx="77.16" cy="230.00" r="1.15"/>
<circle cx="77.16" cy="230.66" r="1.15"/>
<circle cx="77.16" cy="234.59" r="1.15"/>
<circle cx="77.16" cy="229.04" r="1.15"/>
<circle cx="77.16" cy="227.05" r="1.15"/>
<circle cx="77.16" cy="231.40" r="1.15"/>
<circle cx="77.16" cy="235.04" r="1.15"/>
<line x1="91.42" y1="215.90" x2="91.42" y2="229.50" class="w"/>
<line x1="91.42" y1="240.40" x2="91.42" y2="245.40" class="w"/>
<line x1="88.55" y1="215.90" x2="94.30" y2="215.90" class="c"/>
<line x1="88.55" y1="245.40" x2="94.30" y2="245.40" class="c"/>
<rect x="85.67" y="229.50" width="11.50" height="10.90" fill="#fff000" class="b"/>
<line x1="85.67" y1="232.50" x2="97.17" y2="232.50" class="m"/>
<circle cx="91.42" cy="215.90" r="1.15"/>
<circle cx="91.42" cy="245.40" r="1.15"/>
<circle cx="91.42" cy="232.50" r="1.15"/>
<circle cx="91.42" cy="231.37" r="1.15"/>
<circle cx="91.42" cy="238.13" r="1.15"/>
<circle cx="91.42" cy="239.55" r="1.15"/>
<circle cx="91.42" cy="238.29" r="1.15"/>
<circle cx="91.42" cy="238.48" r="1.15"/>
<circle cx="91.42" cy="229.58" r="1.15"/>
<line x1="105.68" y1="211.80" x2="105.68" y2="227.30" class="w"/>
<line x1="105.68" y1="238.30" x2="105.68" y2="249.80" class="w"/>
<line x1="102.81" y1="211.80" x2="108.56" y2="211.80" class="c"/>
<line x1="102.81" y1="249.80" x2="108.56" y2="249.80" class="c"/>
<rect x="99.93" y="227.30" width="11.50" height="11.00" fill="#ec008c" class="b"/>
<line x1="99.93" y1="232.70" x2="111.43" y2="232.70" class="m"/>
<circle cx="105.68" cy="211.80" r="1.15"/>
<circle cx="105.68" cy="249.80" r="1.15"/>
<circle cx="105.68" cy="232.70" r="1.15"/>
<circle cx="105.68" cy="234.21" r="1.15"/>
<circle cx="105.68" cy="236.79" r="1.15"/>
<circle cx="105.68" cy="227.85" r="1.15"/>
<circle cx="105.68" cy="230.29" r="1.15"/>
<circle cx="105.68" cy="230.25" r="1.15"/>
<circle cx="105.68" cy="233.10" r="1.15"/>
<line x1="119.94" y1="225.30" x2="119.94" y2="228.30" class="w"/>
<line x1="119.94" y1="237.40" x2="119.94" y2="243.80" class="w"/>
<line x1="117.06" y1="225.30" x2="122.81" y2="225.30" class="c"/>
<line x1="117.06" y1="243.80" x2="122.81" y2="243.80" class="c"/>
<rect x="114.19" y="228.30" width="11.50" height="9.10" fill="#68207a" class="b"/>
<line x1="114.19" y1="234.70" x2="125.69" y2="234.70" class="m"/>
<circle cx="119.94" cy="225.30" r="1.15"/>
<circle cx="119.94" cy="243.80" r="1.15"/>
<circle cx="119.94" cy="234.70" r="1.15"/>
<circle cx="119.94" cy="255.00" r="1.15"/>
<circle cx="119.94" cy="232.15" r="1.15"/>
<circle cx="119.94" cy="232.60" r="1.15"/>
<circle cx="119.94" cy="235.37" r="1.15"/>
<circle cx="119.94" cy="228.32" r="1.15"/>
<circle cx="119.94" cy="228.80" r="1.15"/>
<circle cx="119.94" cy="229.45" r="1.15"/>
<line x1="134.20" y1="222.80" x2="134.20" y2="230.70" class="w"/>
<line x1="134.20" y1="242.40" x2="134.20" y2="246.90" class="w"/>
<line x1="131.32" y1="222.80" x2="137.07" y2="222.80" class="c"/>
<line x1="131.32" y1="246.90" x2="137.07" y2="246.90" class="c"/>
<rect x="128.45" y="230.70" width="11.50" height="11.70" fill="#ff8a00" class="b"/>
<line x1="128.45" y1="236.40" x2="139.95" y2="236.40" class="m"/>
<circle cx="134.20" cy="222.80" r="1.15"/>
<circle cx="134.20" cy="246.90" r="1.15"/>
<circle cx="134.20" cy="236.40" r="1.15"/>
<circle cx="134.20" cy="232.16" r="1.15"/>
<circle cx="134.20" cy="231.50" r="1.15"/>
<circle cx="134.20" cy="242.10" r="1.15"/>
<circle cx="134.20" cy="240.70" r="1.15"/>
<circle cx="134.20" cy="231.71" r="1.15"/>
<circle cx="134.20" cy="236.57" r="1.15"/>
<line x1="148.46" y1="182.30" x2="148.46" y2="207.70" class="w"/>
<line x1="148.46" y1="230.70" x2="148.46" y2="232.30" class="w"/>
<line x1="145.59" y1="182.30" x2="151.34" y2="182.30" class="c"/>
<line x1="145.59" y1="232.30" x2="151.34" y2="232.30" class="c"/>
<rect x="142.71" y="207.70" width="11.50" height="23.00" fill="#001a8c" class="b"/>
<line x1="142.71" y1="226.90" x2="154.21" y2="226.90" class="m"/>
<circle cx="148.46" cy="182.30" r="1.15"/>
<circle cx="148.46" cy="232.30" r="1.15"/>
<circle cx="148.46" cy="226.90" r="1.15"/>
<circle cx="148.46" cy="159.80" r="1.15"/>
<circle cx="148.46" cy="202.00" r="1.15"/>
<circle cx="148.46" cy="214.97" r="1.15"/>
<circle cx="148.46" cy="214.94" r="1.15"/>
<circle cx="148.46" cy="215.78" r="1.15"/>
<circle cx="148.46" cy="222.58" r="1.15"/>
<circle cx="148.46" cy="221.19" r="1.15"/>
<circle cx="148.46" cy="216.00" r="1.15"/>
<line x1="162.72" y1="227.30" x2="162.72" y2="233.90" class="w"/>
<line x1="162.72" y1="243.40" x2="162.72" y2="248.50" class="w"/>
<line x1="159.84" y1="227.30" x2="165.59" y2="227.30" class="c"/>
<line x1="159.84" y1="248.50" x2="165.59" y2="248.50" class="c"/>
<rect x="156.97" y="233.90" width="11.50" height="9.50" fill="#00a14b" class="b"/>
<line x1="156.97" y1="236.40" x2="168.47" y2="236.40" class="m"/>
<circle cx="162.72" cy="227.30" r="1.15"/>
<circle cx="162.72" cy="248.50" r="1.15"/>
<circle cx="162.72" cy="236.40" r="1.15"/>
<circle cx="162.72" cy="235.72" r="1.15"/>
<circle cx="162.72" cy="237.02" r="1.15"/>
<circle cx="162.72" cy="235.08" r="1.15"/>
<circle cx="162.72" cy="239.18" r="1.15"/>
<circle cx="162.72" cy="240.70" r="1.15"/>
<circle cx="162.72" cy="237.51" r="1.15"/>
<line x1="176.98" y1="220.80" x2="176.98" y2="242.50" class="w"/>
<line x1="176.98" y1="267.80" x2="176.98" y2="285.10" class="w"/>
<line x1="174.10" y1="220.80" x2="179.85" y2="220.80" class="c"/>
<line x1="174.10" y1="285.10" x2="179.85" y2="285.10" class="c"/>
<rect x="171.23" y="242.50" width="11.50" height="25.30" fill="#ed1c24" class="b"/>
<line x1="171.23" y1="250.80" x2="182.73" y2="250.80" class="m"/>
<circle cx="176.98" cy="220.80" r="1.15"/>
<circle cx="176.98" cy="285.10" r="1.15"/>
<circle cx="176.98" cy="250.80" r="1.15"/>
<circle cx="176.98" cy="281.00" r="1.15"/>
<circle cx="176.98" cy="244.52" r="1.15"/>
<circle cx="176.98" cy="247.02" r="1.15"/>
<circle cx="176.98" cy="251.94" r="1.15"/>
<circle cx="176.98" cy="257.79" r="1.15"/>
<circle cx="176.98" cy="262.30" r="1.15"/>
<circle cx="176.98" cy="252.12" r="1.15"/>
<path d="M51.5,291.5 V153.5 H188.0 V291.5" class="f"/>
<line x1="51.0" y1="291.5" x2="188.5" y2="291.5" class="fb"/>
<line x1="49.20" y1="165.50" x2="51.50" y2="165.50" class="t"/>
<text x="47.20" y="168.70" class="tl">2.75</text>
<line x1="49.20" y1="183.20" x2="51.50" y2="183.20" class="t"/>
<text x="47.20" y="186.40" class="tl">2.50</text>
<line x1="49.20" y1="201.20" x2="51.50" y2="201.20" class="t"/>
<text x="47.20" y="204.40" class="tl">2.25</text>
<line x1="49.20" y1="219.30" x2="51.50" y2="219.30" class="t"/>
<text x="47.20" y="222.50" class="tl">2.00</text>
<line x1="49.20" y1="237.70" x2="51.50" y2="237.70" class="t"/>
<text x="47.20" y="240.90" class="tl">1.75</text>
<line x1="49.20" y1="255.60" x2="51.50" y2="255.60" class="t"/>
<text x="47.20" y="258.80" class="tl">1.50</text>
<line x1="49.20" y1="273.80" x2="51.50" y2="273.80" class="t"/>
<text x="47.20" y="277.00" class="tl">1.25</text>
<line x1="119.75" y1="291.50" x2="119.75" y2="294.30" class="t"/>
<line x1="226.80" y1="215.30" x2="226.80" y2="222.00" class="w"/>
<line x1="226.80" y1="230.90" x2="226.80" y2="233.50" class="w"/>
<line x1="223.93" y1="215.30" x2="229.68" y2="215.30" class="c"/>
<line x1="223.93" y1="233.50" x2="229.68" y2="233.50" class="c"/>
<rect x="221.05" y="222.00" width="11.50" height="8.90" fill="#bed60f" class="b"/>
<line x1="221.05" y1="225.90" x2="232.55" y2="225.90" class="m"/>
<circle cx="226.80" cy="215.30" r="1.15"/>
<circle cx="226.80" cy="233.50" r="1.15"/>
<circle cx="226.80" cy="225.90" r="1.15"/>
<circle cx="226.80" cy="229.13" r="1.15"/>
<circle cx="226.80" cy="227.54" r="1.15"/>
<circle cx="226.80" cy="225.84" r="1.15"/>
<circle cx="226.80" cy="225.31" r="1.15"/>
<circle cx="226.80" cy="226.42" r="1.15"/>
<circle cx="226.80" cy="228.26" r="1.15"/>
<line x1="241.04" y1="214.40" x2="241.04" y2="216.70" class="w"/>
<line x1="241.04" y1="219.20" x2="241.04" y2="220.10" class="w"/>
<line x1="238.17" y1="214.40" x2="243.92" y2="214.40" class="c"/>
<line x1="238.17" y1="220.10" x2="243.92" y2="220.10" class="c"/>
<rect x="235.29" y="216.70" width="11.50" height="2.50" fill="#00b9ef" class="b"/>
<circle cx="241.04" cy="214.40" r="1.15"/>
<circle cx="241.04" cy="220.10" r="1.15"/>
<circle cx="241.04" cy="218.00" r="1.15"/>
<circle cx="241.04" cy="217.75" r="1.15"/>
<circle cx="241.04" cy="218.44" r="1.15"/>
<circle cx="241.04" cy="217.85" r="1.15"/>
<circle cx="241.04" cy="217.31" r="1.15"/>
<circle cx="241.04" cy="218.04" r="1.15"/>
<circle cx="241.04" cy="218.44" r="1.15"/>
<line x1="255.28" y1="220.60" x2="255.28" y2="222.80" class="w"/>
<line x1="255.28" y1="228.90" x2="255.28" y2="236.50" class="w"/>
<line x1="252.41" y1="220.60" x2="258.15" y2="220.60" class="c"/>
<line x1="252.41" y1="236.50" x2="258.15" y2="236.50" class="c"/>
<rect x="249.53" y="222.80" width="11.50" height="6.10" fill="#fff000" class="b"/>
<line x1="249.53" y1="225.40" x2="261.03" y2="225.40" class="m"/>
<circle cx="255.28" cy="220.60" r="1.15"/>
<circle cx="255.28" cy="236.50" r="1.15"/>
<circle cx="255.28" cy="225.40" r="1.15"/>
<circle cx="255.28" cy="213.20" r="1.15"/>
<circle cx="255.28" cy="223.24" r="1.15"/>
<circle cx="255.28" cy="225.39" r="1.15"/>
<circle cx="255.28" cy="225.40" r="1.15"/>
<circle cx="255.28" cy="228.17" r="1.15"/>
<circle cx="255.28" cy="228.51" r="1.15"/>
<circle cx="255.28" cy="225.08" r="1.15"/>
<line x1="269.52" y1="219.40" x2="269.52" y2="225.00" class="w"/>
<line x1="269.52" y1="229.50" x2="269.52" y2="233.90" class="w"/>
<line x1="266.64" y1="219.40" x2="272.39" y2="219.40" class="c"/>
<line x1="266.64" y1="233.90" x2="272.39" y2="233.90" class="c"/>
<rect x="263.77" y="225.00" width="11.50" height="4.50" fill="#ec008c" class="b"/>
<line x1="263.77" y1="227.20" x2="275.27" y2="227.20" class="m"/>
<circle cx="269.52" cy="219.40" r="1.15"/>
<circle cx="269.52" cy="233.90" r="1.15"/>
<circle cx="269.52" cy="227.20" r="1.15"/>
<circle cx="269.52" cy="229.04" r="1.15"/>
<circle cx="269.52" cy="228.56" r="1.15"/>
<circle cx="269.52" cy="226.18" r="1.15"/>
<circle cx="269.52" cy="227.09" r="1.15"/>
<circle cx="269.52" cy="225.55" r="1.15"/>
<circle cx="269.52" cy="228.66" r="1.15"/>
<line x1="283.76" y1="215.00" x2="283.76" y2="219.10" class="w"/>
<line x1="283.76" y1="236.30" x2="283.76" y2="247.80" class="w"/>
<line x1="280.88" y1="215.00" x2="286.63" y2="215.00" class="c"/>
<line x1="280.88" y1="247.80" x2="286.63" y2="247.80" class="c"/>
<rect x="278.01" y="219.10" width="11.50" height="17.20" fill="#68207a" class="b"/>
<line x1="278.01" y1="234.20" x2="289.51" y2="234.20" class="m"/>
<circle cx="283.76" cy="215.00" r="1.15"/>
<circle cx="283.76" cy="247.80" r="1.15"/>
<circle cx="283.76" cy="234.20" r="1.15"/>
<circle cx="283.76" cy="230.49" r="1.15"/>
<circle cx="283.76" cy="234.36" r="1.15"/>
<circle cx="283.76" cy="232.73" r="1.15"/>
<circle cx="283.76" cy="230.58" r="1.15"/>
<circle cx="283.76" cy="231.72" r="1.15"/>
<circle cx="283.76" cy="228.80" r="1.15"/>
<line x1="298.00" y1="230.20" x2="298.00" y2="231.20" class="w"/>
<line x1="298.00" y1="234.60" x2="298.00" y2="238.70" class="w"/>
<line x1="295.12" y1="230.20" x2="300.88" y2="230.20" class="c"/>
<line x1="295.12" y1="238.70" x2="300.88" y2="238.70" class="c"/>
<rect x="292.25" y="231.20" width="11.50" height="3.40" fill="#ff8a00" class="b"/>
<line x1="292.25" y1="232.80" x2="303.75" y2="232.80" class="m"/>
<circle cx="298.00" cy="230.20" r="1.15"/>
<circle cx="298.00" cy="238.70" r="1.15"/>
<circle cx="298.00" cy="232.80" r="1.15"/>
<circle cx="298.00" cy="225.20" r="1.15"/>
<circle cx="298.00" cy="231.55" r="1.15"/>
<circle cx="298.00" cy="233.20" r="1.15"/>
<circle cx="298.00" cy="231.22" r="1.15"/>
<circle cx="298.00" cy="231.69" r="1.15"/>
<circle cx="298.00" cy="233.83" r="1.15"/>
<circle cx="298.00" cy="231.35" r="1.15"/>
<line x1="312.24" y1="189.70" x2="312.24" y2="190.60" class="w"/>
<line x1="312.24" y1="203.40" x2="312.24" y2="208.00" class="w"/>
<line x1="309.37" y1="189.70" x2="315.12" y2="189.70" class="c"/>
<line x1="309.37" y1="208.00" x2="315.12" y2="208.00" class="c"/>
<rect x="306.49" y="190.60" width="11.50" height="12.80" fill="#001a8c" class="b"/>
<line x1="306.49" y1="201.20" x2="317.99" y2="201.20" class="m"/>
<circle cx="312.24" cy="189.70" r="1.15"/>
<circle cx="312.24" cy="208.00" r="1.15"/>
<circle cx="312.24" cy="201.20" r="1.15"/>
<circle cx="312.24" cy="159.70" r="1.15"/>
<circle cx="312.24" cy="191.78" r="1.15"/>
<circle cx="312.24" cy="191.87" r="1.15"/>
<circle cx="312.24" cy="201.87" r="1.15"/>
<circle cx="312.24" cy="192.89" r="1.15"/>
<circle cx="312.24" cy="190.90" r="1.15"/>
<circle cx="312.24" cy="201.37" r="1.15"/>
<line x1="326.48" y1="225.60" x2="326.48" y2="232.80" class="w"/>
<line x1="326.48" y1="238.30" x2="326.48" y2="238.70" class="w"/>
<line x1="323.61" y1="225.60" x2="329.36" y2="225.60" class="c"/>
<line x1="323.61" y1="238.70" x2="329.36" y2="238.70" class="c"/>
<rect x="320.73" y="232.80" width="11.50" height="5.50" fill="#00a14b" class="b"/>
<line x1="320.73" y1="235.30" x2="332.23" y2="235.30" class="m"/>
<circle cx="326.48" cy="225.60" r="1.15"/>
<circle cx="326.48" cy="238.70" r="1.15"/>
<circle cx="326.48" cy="235.30" r="1.15"/>
<circle cx="326.48" cy="233.47" r="1.15"/>
<circle cx="326.48" cy="237.44" r="1.15"/>
<circle cx="326.48" cy="236.50" r="1.15"/>
<circle cx="326.48" cy="237.40" r="1.15"/>
<circle cx="326.48" cy="238.04" r="1.15"/>
<circle cx="326.48" cy="235.98" r="1.15"/>
<line x1="340.72" y1="218.50" x2="340.72" y2="229.60" class="w"/>
<line x1="340.72" y1="257.10" x2="340.72" y2="285.80" class="w"/>
<line x1="337.85" y1="218.50" x2="343.60" y2="218.50" class="c"/>
<line x1="337.85" y1="285.80" x2="343.60" y2="285.80" class="c"/>
<rect x="334.97" y="229.60" width="11.50" height="27.50" fill="#ed1c24" class="b"/>
<line x1="334.97" y1="251.40" x2="346.47" y2="251.40" class="m"/>
<circle cx="340.72" cy="218.50" r="1.15"/>
<circle cx="340.72" cy="285.80" r="1.15"/>
<circle cx="340.72" cy="251.40" r="1.15"/>
<circle cx="340.72" cy="251.57" r="1.15"/>
<circle cx="340.72" cy="230.60" r="1.15"/>
<circle cx="340.72" cy="250.70" r="1.15"/>
<circle cx="340.72" cy="243.66" r="1.15"/>
<circle cx="340.72" cy="249.27" r="1.15"/>
<circle cx="340.72" cy="232.54" r="1.15"/>
<path d="M215.5,291.5 V153.5 H351.5 V291.5" class="f"/>
<line x1="215.0" y1="291.5" x2="352.0" y2="291.5" class="fb"/>
<line x1="213.20" y1="153.50" x2="215.50" y2="153.50" class="t"/>
<text x="211.20" y="156.70" class="tl">2.4</text>
<line x1="213.20" y1="177.30" x2="215.50" y2="177.30" class="t"/>
<text x="211.20" y="180.50" class="tl">2.2</text>
<line x1="213.20" y1="200.00" x2="215.50" y2="200.00" class="t"/>
<text x="211.20" y="203.20" class="tl">2.0</text>
<line x1="213.20" y1="223.10" x2="215.50" y2="223.10" class="t"/>
<text x="211.20" y="226.30" class="tl">1.8</text>
<line x1="213.20" y1="245.40" x2="215.50" y2="245.40" class="t"/>
<text x="211.20" y="248.60" class="tl">1.6</text>
<line x1="213.20" y1="268.10" x2="215.50" y2="268.10" class="t"/>
<text x="211.20" y="271.30" class="tl">1.4</text>
<line x1="213.20" y1="291.00" x2="215.50" y2="291.00" class="t"/>
<text x="211.20" y="294.20" class="tl">1.2</text>
<line x1="283.50" y1="291.50" x2="283.50" y2="294.30" class="t"/>
<line x1="390.50" y1="221.50" x2="390.50" y2="226.80" class="w"/>
<line x1="390.50" y1="231.60" x2="390.50" y2="233.00" class="w"/>
<line x1="387.62" y1="221.50" x2="393.38" y2="221.50" class="c"/>
<line x1="387.62" y1="233.00" x2="393.38" y2="233.00" class="c"/>
<rect x="384.75" y="226.80" width="11.50" height="4.80" fill="#bed60f" class="b"/>
<line x1="384.75" y1="229.10" x2="396.25" y2="229.10" class="m"/>
<circle cx="390.50" cy="221.50" r="1.15"/>
<circle cx="390.50" cy="233.00" r="1.15"/>
<circle cx="390.50" cy="229.10" r="1.15"/>
<circle cx="390.50" cy="230.40" r="1.15"/>
<circle cx="390.50" cy="231.29" r="1.15"/>
<circle cx="390.50" cy="227.09" r="1.15"/>
<circle cx="390.50" cy="228.36" r="1.15"/>
<circle cx="390.50" cy="229.51" r="1.15"/>
<circle cx="390.50" cy="230.77" r="1.15"/>
<line x1="404.73" y1="199.40" x2="404.73" y2="205.30" class="w"/>
<line x1="404.73" y1="209.70" x2="404.73" y2="210.00" class="w"/>
<line x1="401.86" y1="199.40" x2="407.61" y2="199.40" class="c"/>
<line x1="401.86" y1="210.00" x2="407.61" y2="210.00" class="c"/>
<rect x="398.98" y="205.30" width="11.50" height="4.40" fill="#00b9ef" class="b"/>
<line x1="398.98" y1="207.40" x2="410.48" y2="207.40" class="m"/>
<circle cx="404.73" cy="199.40" r="1.15"/>
<circle cx="404.73" cy="210.00" r="1.15"/>
<circle cx="404.73" cy="207.40" r="1.15"/>
<circle cx="404.73" cy="206.37" r="1.15"/>
<circle cx="404.73" cy="206.09" r="1.15"/>
<circle cx="404.73" cy="206.40" r="1.15"/>
<circle cx="404.73" cy="208.01" r="1.15"/>
<circle cx="404.73" cy="208.62" r="1.15"/>
<circle cx="404.73" cy="207.03" r="1.15"/>
<line x1="418.96" y1="227.70" x2="418.96" y2="228.60" class="w"/>
<line x1="418.96" y1="240.10" x2="418.96" y2="244.00" class="w"/>
<line x1="416.08" y1="227.70" x2="421.83" y2="227.70" class="c"/>
<line x1="416.08" y1="244.00" x2="421.83" y2="244.00" class="c"/>
<rect x="413.21" y="228.60" width="11.50" height="11.50" fill="#fff000" class="b"/>
<line x1="413.21" y1="232.10" x2="424.71" y2="232.10" class="m"/>
<circle cx="418.96" cy="227.70" r="1.15"/>
<circle cx="418.96" cy="244.00" r="1.15"/>
<circle cx="418.96" cy="232.10" r="1.15"/>
<circle cx="418.96" cy="232.83" r="1.15"/>
<circle cx="418.96" cy="233.16" r="1.15"/>
<circle cx="418.96" cy="232.63" r="1.15"/>
<circle cx="418.96" cy="233.41" r="1.15"/>
<circle cx="418.96" cy="229.56" r="1.15"/>
<circle cx="418.96" cy="234.35" r="1.15"/>
<line x1="433.19" y1="223.00" x2="433.19" y2="224.20" class="w"/>
<line x1="433.19" y1="232.50" x2="433.19" y2="233.90" class="w"/>
<line x1="430.31" y1="223.00" x2="436.06" y2="223.00" class="c"/>
<line x1="430.31" y1="233.90" x2="436.06" y2="233.90" class="c"/>
<rect x="427.44" y="224.20" width="11.50" height="8.30" fill="#ec008c" class="b"/>
<line x1="427.44" y1="227.70" x2="438.94" y2="227.70" class="m"/>
<circle cx="433.19" cy="223.00" r="1.15"/>
<circle cx="433.19" cy="233.90" r="1.15"/>
<circle cx="433.19" cy="227.70" r="1.15"/>
<circle cx="433.19" cy="232.28" r="1.15"/>
<circle cx="433.19" cy="227.63" r="1.15"/>
<circle cx="433.19" cy="230.40" r="1.15"/>
<circle cx="433.19" cy="225.53" r="1.15"/>
<circle cx="433.19" cy="229.93" r="1.15"/>
<circle cx="433.19" cy="230.48" r="1.15"/>
<line x1="447.42" y1="216.70" x2="447.42" y2="217.70" class="w"/>
<line x1="447.42" y1="222.70" x2="447.42" y2="224.50" class="w"/>
<line x1="444.55" y1="216.70" x2="450.30" y2="216.70" class="c"/>
<line x1="444.55" y1="224.50" x2="450.30" y2="224.50" class="c"/>
<rect x="441.67" y="217.70" width="11.50" height="5.00" fill="#68207a" class="b"/>
<line x1="441.67" y1="220.10" x2="453.17" y2="220.10" class="m"/>
<circle cx="447.42" cy="216.70" r="1.15"/>
<circle cx="447.42" cy="224.50" r="1.15"/>
<circle cx="447.42" cy="220.10" r="1.15"/>
<circle cx="447.42" cy="221.07" r="1.15"/>
<circle cx="447.42" cy="220.29" r="1.15"/>
<circle cx="447.42" cy="220.12" r="1.15"/>
<circle cx="447.42" cy="220.91" r="1.15"/>
<circle cx="447.42" cy="222.19" r="1.15"/>
<circle cx="447.42" cy="218.45" r="1.15"/>
<line x1="461.65" y1="238.30" x2="461.65" y2="241.90" class="w"/>
<line x1="461.65" y1="247.40" x2="461.65" y2="251.40" class="w"/>
<line x1="458.77" y1="238.30" x2="464.52" y2="238.30" class="c"/>
<line x1="458.77" y1="251.40" x2="464.52" y2="251.40" class="c"/>
<rect x="455.90" y="241.90" width="11.50" height="5.50" fill="#ff8a00" class="b"/>
<line x1="455.90" y1="244.70" x2="467.40" y2="244.70" class="m"/>
<circle cx="461.65" cy="238.30" r="1.15"/>
<circle cx="461.65" cy="251.40" r="1.15"/>
<circle cx="461.65" cy="244.70" r="1.15"/>
<circle cx="461.65" cy="242.43" r="1.15"/>
<circle cx="461.65" cy="246.01" r="1.15"/>
<circle cx="461.65" cy="246.94" r="1.15"/>
<circle cx="461.65" cy="244.74" r="1.15"/>
<circle cx="461.65" cy="244.34" r="1.15"/>
<circle cx="461.65" cy="245.85" r="1.15"/>
<line x1="475.88" y1="164.50" x2="475.88" y2="182.70" class="w"/>
<line x1="475.88" y1="196.30" x2="475.88" y2="205.30" class="w"/>
<line x1="473.00" y1="164.50" x2="478.75" y2="164.50" class="c"/>
<line x1="473.00" y1="205.30" x2="478.75" y2="205.30" class="c"/>
<rect x="470.13" y="182.70" width="11.50" height="13.60" fill="#001a8c" class="b"/>
<line x1="470.13" y1="192.90" x2="481.63" y2="192.90" class="m"/>
<circle cx="475.88" cy="164.50" r="1.15"/>
<circle cx="475.88" cy="205.30" r="1.15"/>
<circle cx="475.88" cy="192.90" r="1.15"/>
<circle cx="475.88" cy="159.40" r="1.15"/>
<circle cx="475.88" cy="185.23" r="1.15"/>
<circle cx="475.88" cy="186.34" r="1.15"/>
<circle cx="475.88" cy="185.41" r="1.15"/>
<circle cx="475.88" cy="190.66" r="1.15"/>
<circle cx="475.88" cy="186.98" r="1.15"/>
<circle cx="475.88" cy="185.86" r="1.15"/>
<line x1="490.11" y1="234.60" x2="490.11" y2="241.70" class="w"/>
<line x1="490.11" y1="247.40" x2="490.11" y2="251.40" class="w"/>
<line x1="487.24" y1="234.60" x2="492.99" y2="234.60" class="c"/>
<line x1="487.24" y1="251.40" x2="492.99" y2="251.40" class="c"/>
<rect x="484.36" y="241.70" width="11.50" height="5.70" fill="#00a14b" class="b"/>
<line x1="484.36" y1="244.30" x2="495.86" y2="244.30" class="m"/>
<circle cx="490.11" cy="234.60" r="1.15"/>
<circle cx="490.11" cy="251.40" r="1.15"/>
<circle cx="490.11" cy="244.30" r="1.15"/>
<circle cx="490.11" cy="245.64" r="1.15"/>
<circle cx="490.11" cy="247.13" r="1.15"/>
<circle cx="490.11" cy="243.39" r="1.15"/>
<circle cx="490.11" cy="245.72" r="1.15"/>
<circle cx="490.11" cy="244.06" r="1.15"/>
<circle cx="490.11" cy="246.57" r="1.15"/>
<line x1="504.34" y1="237.90" x2="504.34" y2="260.50" class="w"/>
<line x1="504.34" y1="278.70" x2="504.34" y2="285.80" class="w"/>
<line x1="501.47" y1="237.90" x2="507.22" y2="237.90" class="c"/>
<line x1="501.47" y1="285.80" x2="507.22" y2="285.80" class="c"/>
<rect x="498.59" y="260.50" width="11.50" height="18.20" fill="#ed1c24" class="b"/>
<line x1="498.59" y1="268.20" x2="510.09" y2="268.20" class="m"/>
<circle cx="504.34" cy="237.90" r="1.15"/>
<circle cx="504.34" cy="285.80" r="1.15"/>
<circle cx="504.34" cy="268.20" r="1.15"/>
<circle cx="504.34" cy="271.14" r="1.15"/>
<circle cx="504.34" cy="265.36" r="1.15"/>
<circle cx="504.34" cy="264.46" r="1.15"/>
<circle cx="504.34" cy="260.92" r="1.15"/>
<circle cx="504.34" cy="269.23" r="1.15"/>
<circle cx="504.34" cy="267.47" r="1.15"/>
<path d="M379.0,291.5 V153.5 H515.5 V291.5" class="f"/>
<line x1="378.5" y1="291.5" x2="516.0" y2="291.5" class="fb"/>
<line x1="376.70" y1="175.00" x2="379.00" y2="175.00" class="t"/>
<text x="374.70" y="178.20" class="tl">2.2</text>
<line x1="376.70" y1="203.50" x2="379.00" y2="203.50" class="t"/>
<text x="374.70" y="206.70" class="tl">2.0</text>
<line x1="376.70" y1="231.80" x2="379.00" y2="231.80" class="t"/>
<text x="374.70" y="235.00" class="tl">1.8</text>
<line x1="376.70" y1="259.90" x2="379.00" y2="259.90" class="t"/>
<text x="374.70" y="263.10" class="tl">1.6</text>
<line x1="376.70" y1="288.90" x2="379.00" y2="288.90" class="t"/>
<text x="374.70" y="292.10" class="tl">1.4</text>
<line x1="447.25" y1="291.50" x2="447.25" y2="294.30" class="t"/>
<line x1="554.30" y1="247.30" x2="554.30" y2="249.00" class="w"/>
<line x1="554.30" y1="250.70" x2="554.30" y2="252.10" class="w"/>
<line x1="551.42" y1="247.30" x2="557.17" y2="247.30" class="c"/>
<line x1="551.42" y1="252.10" x2="557.17" y2="252.10" class="c"/>
<rect x="548.55" y="249.00" width="11.50" height="1.70" fill="#bed60f" class="b"/>
<circle cx="554.30" cy="247.30" r="1.15"/>
<circle cx="554.30" cy="252.10" r="1.15"/>
<circle cx="554.30" cy="249.80" r="1.15"/>
<circle cx="554.30" cy="249.29" r="1.15"/>
<circle cx="554.30" cy="249.61" r="1.15"/>
<circle cx="554.30" cy="249.55" r="1.15"/>
<circle cx="554.30" cy="250.32" r="1.15"/>
<circle cx="554.30" cy="249.24" r="1.15"/>
<circle cx="554.30" cy="250.69" r="1.15"/>
<line x1="568.57" y1="231.80" x2="568.57" y2="232.20" class="w"/>
<line x1="568.57" y1="233.50" x2="568.57" y2="236.60" class="w"/>
<line x1="565.69" y1="231.80" x2="571.44" y2="231.80" class="c"/>
<line x1="565.69" y1="236.60" x2="571.44" y2="236.60" class="c"/>
<rect x="562.82" y="232.20" width="11.50" height="1.30" fill="#00b9ef" class="b"/>
<circle cx="568.57" cy="231.80" r="1.15"/>
<circle cx="568.57" cy="236.60" r="1.15"/>
<circle cx="568.57" cy="232.70" r="1.15"/>
<circle cx="568.57" cy="232.82" r="1.15"/>
<circle cx="568.57" cy="232.98" r="1.15"/>
<circle cx="568.57" cy="232.81" r="1.15"/>
<circle cx="568.57" cy="233.28" r="1.15"/>
<circle cx="568.57" cy="233.27" r="1.15"/>
<circle cx="568.57" cy="232.92" r="1.15"/>
<line x1="582.84" y1="249.00" x2="582.84" y2="251.60" class="w"/>
<line x1="582.84" y1="255.70" x2="582.84" y2="258.80" class="w"/>
<line x1="579.96" y1="249.00" x2="585.71" y2="249.00" class="c"/>
<line x1="579.96" y1="258.80" x2="585.71" y2="258.80" class="c"/>
<rect x="577.09" y="251.60" width="11.50" height="4.10" fill="#fff000" class="b"/>
<line x1="577.09" y1="253.50" x2="588.59" y2="253.50" class="m"/>
<circle cx="582.84" cy="249.00" r="1.15"/>
<circle cx="582.84" cy="258.80" r="1.15"/>
<circle cx="582.84" cy="253.50" r="1.15"/>
<circle cx="582.84" cy="253.57" r="1.15"/>
<circle cx="582.84" cy="254.55" r="1.15"/>
<circle cx="582.84" cy="255.11" r="1.15"/>
<circle cx="582.84" cy="253.24" r="1.15"/>
<circle cx="582.84" cy="254.61" r="1.15"/>
<circle cx="582.84" cy="255.54" r="1.15"/>
<line x1="597.11" y1="248.00" x2="597.11" y2="250.00" class="w"/>
<line x1="597.11" y1="252.70" x2="597.11" y2="254.80" class="w"/>
<line x1="594.23" y1="248.00" x2="599.98" y2="248.00" class="c"/>
<line x1="594.23" y1="254.80" x2="599.98" y2="254.80" class="c"/>
<rect x="591.36" y="250.00" width="11.50" height="2.70" fill="#ec008c" class="b"/>
<circle cx="597.11" cy="248.00" r="1.15"/>
<circle cx="597.11" cy="254.80" r="1.15"/>
<circle cx="597.11" cy="251.20" r="1.15"/>
<circle cx="597.11" cy="251.26" r="1.15"/>
<circle cx="597.11" cy="250.62" r="1.15"/>
<circle cx="597.11" cy="250.63" r="1.15"/>
<circle cx="597.11" cy="251.94" r="1.15"/>
<circle cx="597.11" cy="251.82" r="1.15"/>
<circle cx="597.11" cy="252.59" r="1.15"/>
<line x1="611.38" y1="241.30" x2="611.38" y2="242.30" class="w"/>
<line x1="611.38" y1="247.00" x2="611.38" y2="248.80" class="w"/>
<line x1="608.50" y1="241.30" x2="614.25" y2="241.30" class="c"/>
<line x1="608.50" y1="248.80" x2="614.25" y2="248.80" class="c"/>
<rect x="605.63" y="242.30" width="11.50" height="4.70" fill="#68207a" class="b"/>
<line x1="605.63" y1="244.70" x2="617.13" y2="244.70" class="m"/>
<circle cx="611.38" cy="241.30" r="1.15"/>
<circle cx="611.38" cy="248.80" r="1.15"/>
<circle cx="611.38" cy="244.70" r="1.15"/>
<circle cx="611.38" cy="232.20" r="1.15"/>
<circle cx="611.38" cy="246.31" r="1.15"/>
<circle cx="611.38" cy="243.44" r="1.15"/>
<circle cx="611.38" cy="243.19" r="1.15"/>
<circle cx="611.38" cy="243.52" r="1.15"/>
<circle cx="611.38" cy="243.18" r="1.15"/>
<circle cx="611.38" cy="245.61" r="1.15"/>
<line x1="625.65" y1="265.00" x2="625.65" y2="268.60" class="w"/>
<line x1="625.65" y1="271.00" x2="625.65" y2="273.20" class="w"/>
<line x1="622.77" y1="265.00" x2="628.52" y2="265.00" class="c"/>
<line x1="622.77" y1="273.20" x2="628.52" y2="273.20" class="c"/>
<rect x="619.90" y="268.60" width="11.50" height="2.40" fill="#ff8a00" class="b"/>
<circle cx="625.65" cy="265.00" r="1.15"/>
<circle cx="625.65" cy="273.20" r="1.15"/>
<circle cx="625.65" cy="269.80" r="1.15"/>
<circle cx="625.65" cy="270.66" r="1.15"/>
<circle cx="625.65" cy="270.76" r="1.15"/>
<circle cx="625.65" cy="269.21" r="1.15"/>
<circle cx="625.65" cy="270.68" r="1.15"/>
<circle cx="625.65" cy="269.35" r="1.15"/>
<circle cx="625.65" cy="269.62" r="1.15"/>
<line x1="639.92" y1="159.20" x2="639.92" y2="169.10" class="w"/>
<line x1="639.92" y1="215.20" x2="639.92" y2="222.10" class="w"/>
<line x1="637.04" y1="159.20" x2="642.79" y2="159.20" class="c"/>
<line x1="637.04" y1="222.10" x2="642.79" y2="222.10" class="c"/>
<rect x="634.17" y="169.10" width="11.50" height="46.10" fill="#001a8c" class="b"/>
<line x1="634.17" y1="200.40" x2="645.67" y2="200.40" class="m"/>
<circle cx="639.92" cy="159.20" r="1.15"/>
<circle cx="639.92" cy="222.10" r="1.15"/>
<circle cx="639.92" cy="200.40" r="1.15"/>
<circle cx="639.92" cy="202.71" r="1.15"/>
<circle cx="639.92" cy="173.06" r="1.15"/>
<circle cx="639.92" cy="173.37" r="1.15"/>
<circle cx="639.92" cy="207.54" r="1.15"/>
<circle cx="639.92" cy="182.55" r="1.15"/>
<circle cx="639.92" cy="185.54" r="1.15"/>
<line x1="654.19" y1="263.50" x2="654.19" y2="267.20" class="w"/>
<line x1="654.19" y1="271.00" x2="654.19" y2="273.00" class="w"/>
<line x1="651.31" y1="263.50" x2="657.06" y2="263.50" class="c"/>
<line x1="651.31" y1="273.00" x2="657.06" y2="273.00" class="c"/>
<rect x="648.44" y="267.20" width="11.50" height="3.80" fill="#00a14b" class="b"/>
<line x1="648.44" y1="269.00" x2="659.94" y2="269.00" class="m"/>
<circle cx="654.19" cy="263.50" r="1.15"/>
<circle cx="654.19" cy="273.00" r="1.15"/>
<circle cx="654.19" cy="269.00" r="1.15"/>
<circle cx="654.19" cy="269.41" r="1.15"/>
<circle cx="654.19" cy="269.77" r="1.15"/>
<circle cx="654.19" cy="267.23" r="1.15"/>
<circle cx="654.19" cy="268.47" r="1.15"/>
<circle cx="654.19" cy="268.86" r="1.15"/>
<circle cx="654.19" cy="269.05" r="1.15"/>
<line x1="668.46" y1="275.30" x2="668.46" y2="279.70" class="w"/>
<line x1="668.46" y1="285.20" x2="668.46" y2="286.40" class="w"/>
<line x1="665.58" y1="275.30" x2="671.33" y2="275.30" class="c"/>
<line x1="665.58" y1="286.40" x2="671.33" y2="286.40" class="c"/>
<rect x="662.71" y="279.70" width="11.50" height="5.50" fill="#ed1c24" class="b"/>
<line x1="662.71" y1="281.70" x2="674.21" y2="281.70" class="m"/>
<circle cx="668.46" cy="275.30" r="1.15"/>
<circle cx="668.46" cy="286.40" r="1.15"/>
<circle cx="668.46" cy="281.70" r="1.15"/>
<circle cx="668.46" cy="280.86" r="1.15"/>
<circle cx="668.46" cy="282.92" r="1.15"/>
<circle cx="668.46" cy="284.95" r="1.15"/>
<circle cx="668.46" cy="281.85" r="1.15"/>
<circle cx="668.46" cy="282.69" r="1.15"/>
<circle cx="668.46" cy="280.36" r="1.15"/>
<path d="M543.0,291.5 V153.5 H679.5 V291.5" class="f"/>
<line x1="542.5" y1="291.5" x2="680.0" y2="291.5" class="fb"/>
<line x1="540.70" y1="157.60" x2="543.00" y2="157.60" class="t"/>
<text x="538.70" y="160.80" class="tl">2.0</text>
<line x1="540.70" y1="185.40" x2="543.00" y2="185.40" class="t"/>
<text x="538.70" y="188.60" class="tl">1.8</text>
<line x1="540.70" y1="212.40" x2="543.00" y2="212.40" class="t"/>
<text x="538.70" y="215.60" class="tl">1.6</text>
<line x1="540.70" y1="240.70" x2="543.00" y2="240.70" class="t"/>
<text x="538.70" y="243.90" class="tl">1.4</text>
<line x1="540.70" y1="268.60" x2="543.00" y2="268.60" class="t"/>
<text x="538.70" y="271.80" class="tl">1.2</text>
<line x1="611.25" y1="291.50" x2="611.25" y2="294.30" class="t"/>
<text x="88.0" y="306.3" class="xl" textLength="63.1" lengthAdjust="spacingAndGlyphs">Dataset I</text>
<text x="74.6" y="322.6" class="xl" textLength="91.5" lengthAdjust="spacingAndGlyphs">(<tspan font-style="italic">n</tspan>:50, <tspan font-style="italic">p</tspan>:100)</text>
<text x="249.9" y="306.3" class="xl" textLength="67.0" lengthAdjust="spacingAndGlyphs">Dataset II</text>
<text x="227.1" y="322.6" class="xl" textLength="114.0" lengthAdjust="spacingAndGlyphs">(<tspan font-style="italic">n</tspan>:100, <tspan font-style="italic">p</tspan>:1,000)</text>
<text x="411.0" y="306.3" class="xl" textLength="72.1" lengthAdjust="spacingAndGlyphs">Dataset III</text>
<text x="386.7" y="322.6" class="xl" textLength="122.5" lengthAdjust="spacingAndGlyphs">(<tspan font-style="italic">n</tspan>:200, <tspan font-style="italic">p</tspan>:10,000)</text>
<text x="574.5" y="306.3" class="xl" textLength="73.0" lengthAdjust="spacingAndGlyphs">Dataset IV</text>
<text x="550.3" y="322.6" class="xl" textLength="123.1" lengthAdjust="spacingAndGlyphs">(<tspan font-style="italic">n</tspan>:400, <tspan font-style="italic">p</tspan>:10,000)</text>
<text transform="translate(20.2,104.2) rotate(-90)" class="yl" textLength="45.9" lengthAdjust="spacingAndGlyphs">RMSE</text>
<text transform="translate(23.2,57.6) rotate(-90)" class="ys" textLength="20.6" lengthAdjust="spacingAndGlyphs">ALL</text>
<text transform="translate(14.9,273.1) rotate(-90)" class="yl" textLength="45.8" lengthAdjust="spacingAndGlyphs">RMSE</text>
<text transform="translate(17.4,228.7) rotate(-90)" class="ys" textLength="57.0" lengthAdjust="spacingAndGlyphs">Nonzeros</text>
<text x="1.6" y="19.4" class="pl">A</text>
<text x="2.0" y="154.7" class="pl">B</text>
<rect x="47.5" y="350.5" width="636" height="43.5" rx="2" fill="#fff" stroke="#e0e0e0" stroke-width="1"/>
<rect x="53" y="356.2" width="27.8" height="9.6" fill="#bed60f" stroke="#222" stroke-width="0.8"/>
<text x="91.6" y="366.0" class="lg" textLength="45.4" lengthAdjust="spacingAndGlyphs">LASSO</text>
<rect x="53" y="376.2" width="27.8" height="9.6" fill="#ff8a00" stroke="#222" stroke-width="0.8"/>
<text x="91.6" y="385.6" class="lg" textLength="56.0" lengthAdjust="spacingAndGlyphs">Random</text>
<rect x="176" y="356.2" width="27.8" height="9.6" fill="#00b9ef" stroke="#222" stroke-width="0.8"/>
<text x="214.3" y="366.0" class="lg" textLength="44.7" lengthAdjust="spacingAndGlyphs">Elastic</text>
<rect x="176" y="376.2" width="27.8" height="9.6" fill="#001a8c" stroke="#222" stroke-width="0.8"/>
<text x="214.3" y="385.6" class="lg" textLength="67.2" lengthAdjust="spacingAndGlyphs">Recursive</text>
<rect x="309.3" y="356.2" width="27.8" height="9.6" fill="#fff000" stroke="#222" stroke-width="0.8"/>
<text x="347.8" y="366.0" class="lg" textLength="61.3" lengthAdjust="spacingAndGlyphs">Adaptive</text>
<rect x="309.3" y="376.2" width="27.8" height="9.6" fill="#00a14b" stroke="#222" stroke-width="0.8"/>
<text x="347.8" y="385.6" class="lg" textLength="65.1" lengthAdjust="spacingAndGlyphs">Hi-LASSO</text>
<rect x="440.4" y="356.2" width="27.8" height="9.6" fill="#ec008c" stroke="#222" stroke-width="0.8"/>
<text x="479.0" y="366.0" class="lg" textLength="54.3" lengthAdjust="spacingAndGlyphs">Relaxed</text>
<rect x="440.4" y="376.2" width="27.8" height="9.6" fill="#ed1c24" stroke="#222" stroke-width="0.8"/>
<text x="479.0" y="385.6" class="lg" textLength="71.0" lengthAdjust="spacingAndGlyphs">Stochastic</text>
<rect x="578.2" y="356.2" width="27.8" height="9.6" fill="#68207a" stroke="#222" stroke-width="0.8"/>
<text x="616.5" y="366.0" class="lg" textLength="61.3" lengthAdjust="spacingAndGlyphs">Precision</text>
</svg>
</body></html>
